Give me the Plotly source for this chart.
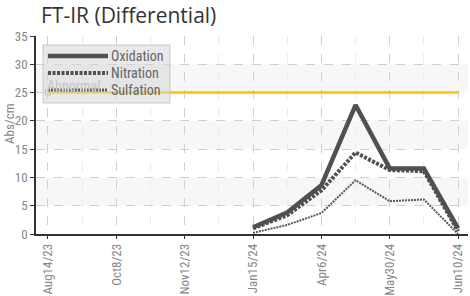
import plotly.graph_objects as go

# ---- data ----
dates = ["Aug14/23", "", "Oct8/23", "", "Nov12/23", "", "Jan15/24", "", "Apr6/24", "", "May30/24", "", "Jun10/24"]
sample_idx = [6, 7, 8, 9, 10, 11, 12]
oxidation = [1.2, 3.8, 8.6, 22.8, 11.6, 11.6, 1.0]
nitration = [1.0, 3.3, 7.7, 14.4, 11.3, 11.1, 0.5]
sulfation = [0.2, 1.6, 3.7, 9.5, 5.8, 6.1, 0.0]
abnormal = 25
series_names = ["Oxidation", "Nitration", "Sulfation"]
y_ticks = [0, 5, 10, 15, 20, 25, 30, 35]

W, H = 470, 296
L, R, T, B = 36, 2, 36, 62
PW, PH = W - L - R, H - T - B

def px(x):
    return (x - L) / PW

def py(y):
    return (H - B - y) / PH

FONT = "Roboto Condensed, Roboto, sans-serif"
fig = go.Figure()

# abnormal limit
fig.add_trace(go.Scatter(x=[0, len(dates) - 1], y=[abnormal, abnormal], mode="lines",
                         line=dict(color="#FFC000", width=2.5), showlegend=False, hoverinfo="skip"))
fig.add_trace(go.Scatter(x=[0], y=[abnormal], mode="markers",
                         marker=dict(symbol="square-open", size=5, color="#aaaaaa", line=dict(width=1)),
                         showlegend=False, hoverinfo="skip"))

styles = [
    dict(color="#505050", width=4.5, dash="solid"),
    dict(color="#505050", width=4, dash="3px,1.5px"),
    dict(color="#5a5a5a", width=2, dash="2px,1px"),
]
for name, vals, st in zip(series_names, [oxidation, nitration, sulfation], styles):
    fig.add_trace(go.Scatter(x=sample_idx, y=vals, mode="lines", name=name, line=st, showlegend=False))

shapes = []
# bands
for y0 in [5, 15, 25]:
    shapes.append(dict(type="rect", xref="paper", yref="y", x0=0, x1=1, y0=y0, y1=y0 + 5,
                       fillcolor="#f7f7f7", line=dict(width=0), layer="below"))

annotations = [dict(text="Abnormal", x=0, y=abnormal, xref="x", yref="y", xanchor="left", yanchor="bottom",
                    showarrow=False, font=dict(family=FONT, size=14, color="#c4c4c4"), yshift=-3, xshift=-3)]

# manual legend
bx0, bx1, by0, by1 = px(43), px(170), py(45), py(103)
shapes.append(dict(type="rect", xref="paper", yref="paper", x0=bx0, x1=bx1, y0=by1, y1=by0,
                   fillcolor="rgba(215,215,215,0.55)", line=dict(color="rgba(190,190,190,0.8)", width=1)))
for i, (name, st) in enumerate(zip(series_names, styles)):
    yy = py(56 + 17 * i)
    shapes.append(dict(type="line", xref="paper", yref="paper", x0=px(48), x1=px(108), y0=yy, y1=yy,
                       line=dict(color=st["color"], width=st["width"] if i < 2 else 3, dash=st["dash"])))
    annotations.append(dict(text=name, xref="paper", yref="paper", x=px(109), y=yy, xanchor="left",
                            yanchor="middle", showarrow=False,
                            font=dict(family=FONT, size=14, color="#666666")))

annotations.append(dict(text="Abs/cm", xref="paper", yref="paper", x=px(9), y=py(124), textangle=-90,
                        xanchor="center", yanchor="middle",
                        showarrow=False, font=dict(family=FONT, size=13, color="#888888")))

tick_idx = [i for i, d in enumerate(dates) if d]
fig.update_layout(
    width=W, height=H,
    margin=dict(l=L, r=R, t=T, b=B),
    paper_bgcolor="white", plot_bgcolor="white",
    title=dict(text="FT-IR (Differential)", x=41 / W, xanchor="left", y=0.972, yanchor="top",
               font=dict(family="Open Sans, DejaVu Sans, sans-serif", size=21, color="#333333")),
    shapes=shapes, annotations=annotations,
    xaxis=dict(range=[-0.35, 12.29], tickvals=tick_idx, ticktext=[dates[i] for i in tick_idx],
               tickangle=-90, tickfont=dict(family=FONT, size=13, color="#888888"),
               showgrid=True, gridcolor="#d0d0d0", griddash="dash", gridwidth=1,
               showline=True, linecolor="#333333", linewidth=1.5,
               ticks="outside", ticklen=3, tickcolor="#333333", zeroline=False,
               minor=dict(dtick=1, tick0=0, showgrid=True, gridcolor="#ececec", griddash="dash", ticks=""),
               automargin=False, fixedrange=True),
    yaxis=dict(range=[0, 35], tickvals=y_ticks, tickfont=dict(family=FONT, size=13, color="#888888"),
               showgrid=True, gridcolor="#d0d0d0", griddash="dash", gridwidth=1,
               showline=True, linecolor="#333333", linewidth=1.5,
               ticks="outside", ticklen=4, tickcolor="#333333", zeroline=False,
               automargin=False, fixedrange=True),
    showlegend=False,
)

fig.write_html("out.html", config={"displayModeBar": False},
               post_script="document.body.style.margin='0';")
